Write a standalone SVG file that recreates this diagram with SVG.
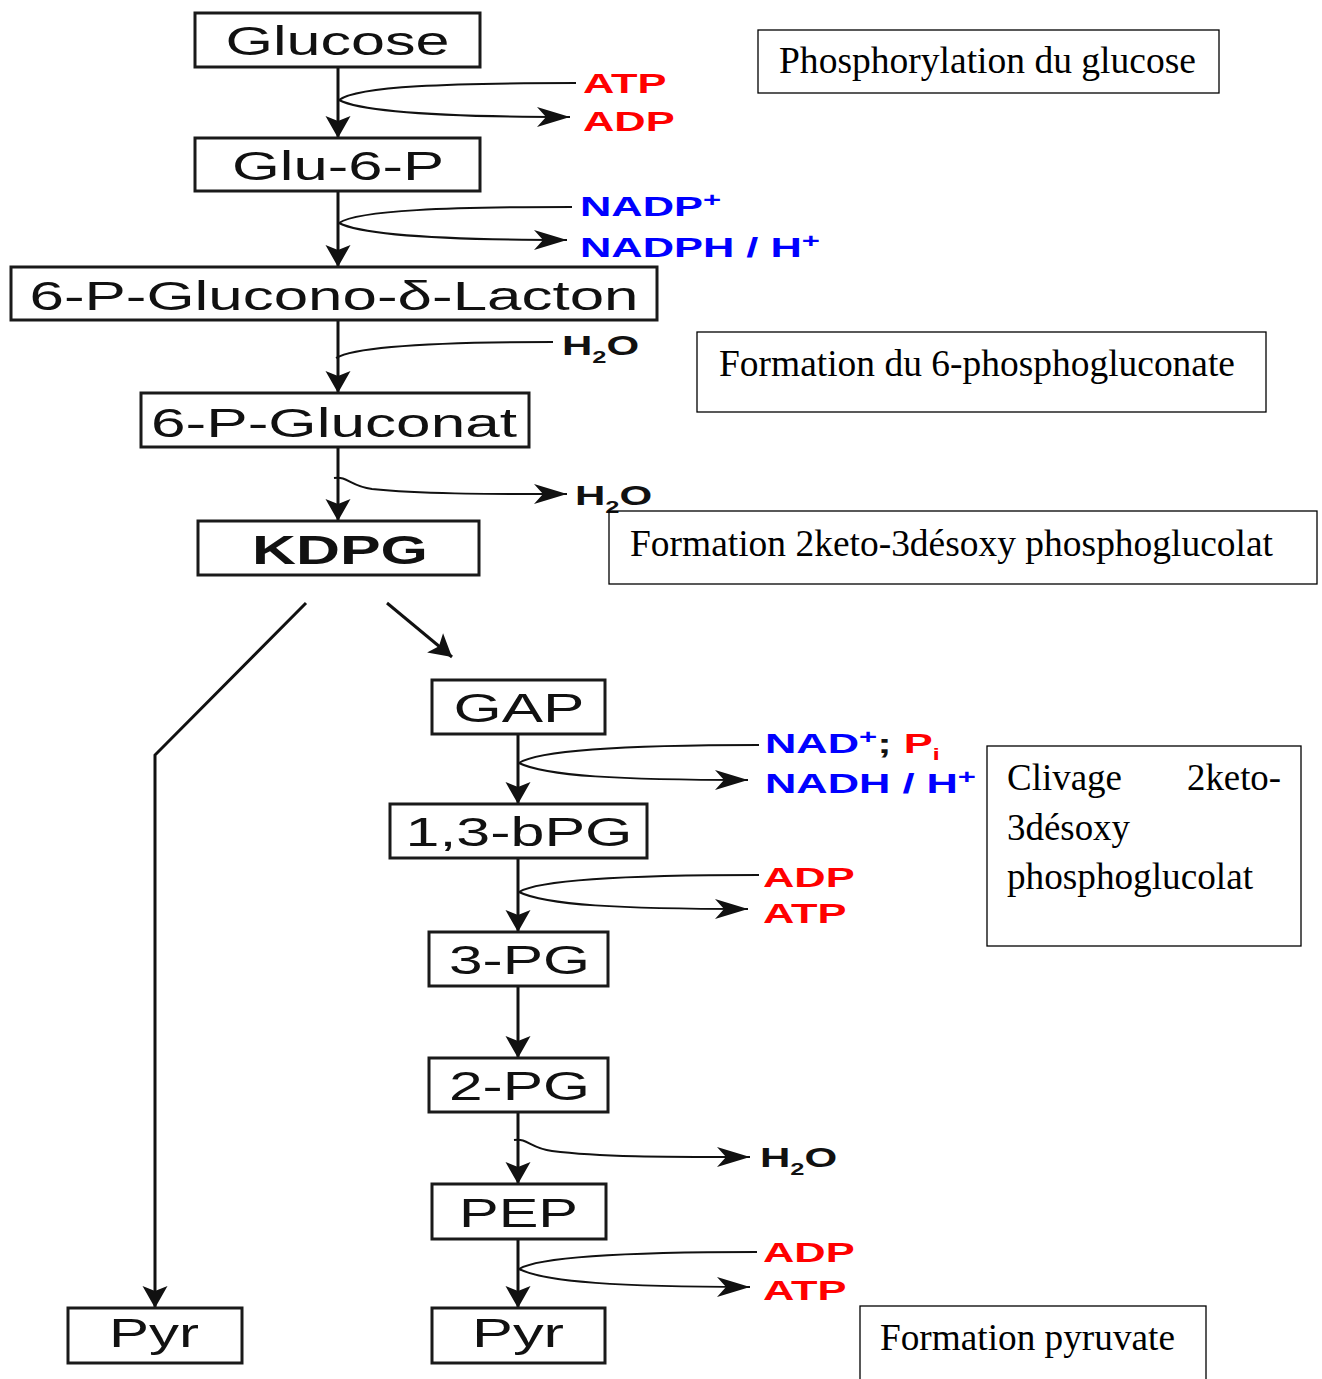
<svg xmlns="http://www.w3.org/2000/svg" width="1322" height="1379" viewBox="0 0 1322 1379">
  <style>
    .box { fill: #fff; stroke: #1a1a1a; stroke-width: 3; }
    .nl { font-family: "Liberation Sans", Arial, sans-serif; font-size: 41px; fill: #111; text-anchor: middle; }
    .lbl { font-family: "Liberation Sans", Arial, sans-serif; font-weight: bold; font-size: 28px; }
    .sup { font-size: 20px; }
    .sub { font-size: 17px; }
    .red { fill: #ff0000; }
    .blue { fill: #0000ff; }
    .blk { fill: #111; }
    .main { stroke: #111; stroke-width: 3; fill: none; marker-end: url(#head); }
    .side { stroke: #111; stroke-width: 2; fill: none; }
    .out { marker-end: url(#barb); }
    .note { fill: none; stroke: #000; stroke-width: 1.3; }
    .nt { font-family: "Liberation Serif", "Times New Roman", serif; font-size: 38px; fill: #000; }
  </style>
  <defs>
    <marker id="head" markerUnits="userSpaceOnUse" viewBox="-24 -14 26 28" markerWidth="26" markerHeight="28" refX="0" refY="0" orient="auto" overflow="visible">
      <path d="M0,0 L-22,-12.5 L-17,0 L-22,12.5 Z" fill="#111"/>
    </marker>
    <marker id="barb" markerUnits="userSpaceOnUse" viewBox="-36 -12 38 24" markerWidth="38" markerHeight="24" refX="0" refY="0" orient="auto" overflow="visible">
      <path d="M0,0 L-33,-10 L-24,0 L-33,10 Z" fill="#111"/>
    </marker>
  </defs>

  <rect width="1322" height="1379" fill="#fff"/>

  <!-- connectors -->
  <g id="connectors">
    <!-- main pathway, upper chain -->
    <path class="main" d="M338,67 L338,138"/>
    <path class="main" d="M338,191 L338,267"/>
    <path class="main" d="M338,320 L338,393"/>
    <path class="main" d="M338,447 L338,521"/>
    <!-- KDPG split -->
    <path class="main" d="M306,603 L155,755 L155,1308"/>
    <path class="main" d="M387,603 L452,657"/>
    <!-- lower chain -->
    <path class="main" d="M518,734 L518,804"/>
    <path class="main" d="M518,858 L518,932"/>
    <path class="main" d="M518,986 L518,1058"/>
    <path class="main" d="M518,1112 L518,1184"/>
    <path class="main" d="M518,1239 L518,1308"/>

    <!-- side reactions -->
    <path class="side" d="M576,83 C450,83 358,86 339,100"/>
    <path class="side out" d="M339,100 C362,112 440,117 570,117"/>
    <path class="side" d="M572,207 C450,207 358,210 339,223"/>
    <path class="side out" d="M339,223 C362,235 440,240 567,240"/>
    <path class="side" d="M553,342 C450,342 358,345 336,358"/>
    <path class="side out" d="M334,478 C348,476 350,486 372,489 C420,494 480,494 567,494"/>
    <path class="side" d="M759,745 C640,745 540,749 519,763"/>
    <path class="side out" d="M519,763 C545,776 620,780 748,780"/>
    <path class="side" d="M759,875 C640,875 540,879 519,892"/>
    <path class="side out" d="M519,892 C545,905 620,909 748,909"/>
    <path class="side out" d="M514,1140 C528,1138 530,1148 552,1151 C600,1157 660,1157 750,1157"/>
    <path class="side" d="M757,1252 C640,1252 540,1256 519,1269"/>
    <path class="side out" d="M519,1269 C545,1282 620,1287 750,1287"/>
  </g>

  <!-- metabolites -->
  <g id="glucose">
    <rect class="box" x="195" y="13" width="285" height="54"/>
    <text class="nl" x="337.5" y="55" textLength="224" lengthAdjust="spacingAndGlyphs">Glucose</text>
  </g>
  <g id="glu6p">
    <rect class="box" x="195" y="138" width="285" height="53"/>
    <text class="nl" x="338" y="180" textLength="212" lengthAdjust="spacingAndGlyphs">Glu-6-P</text>
  </g>
  <g id="lacton">
    <rect class="box" x="11" y="267" width="646" height="53"/>
    <text class="nl" x="334" y="310" font-size="43" textLength="609" lengthAdjust="spacingAndGlyphs">6-P-Glucono-δ-Lacton</text>
  </g>
  <g id="gluconat">
    <rect class="box" x="141" y="393" width="388" height="54"/>
    <text class="nl" x="334" y="437" textLength="366" lengthAdjust="spacingAndGlyphs">6-P-Gluconat</text>
  </g>
  <g id="kdpg">
    <rect class="box" x="198" y="521" width="281" height="54"/>
    <text class="nl" x="340" y="564" font-weight="bold" textLength="176" lengthAdjust="spacingAndGlyphs">KDPG</text>
  </g>
  <g id="gap">
    <rect class="box" x="432" y="680" width="173" height="54"/>
    <text class="nl" x="519" y="722" textLength="131" lengthAdjust="spacingAndGlyphs">GAP</text>
  </g>
  <g id="bpg">
    <rect class="box" x="390" y="804" width="257" height="54"/>
    <text class="nl" x="519" y="846" textLength="227" lengthAdjust="spacingAndGlyphs">1,3-bPG</text>
  </g>
  <g id="pg3">
    <rect class="box" x="429" y="932" width="179" height="54"/>
    <text class="nl" x="519.5" y="974" textLength="141" lengthAdjust="spacingAndGlyphs">3-PG</text>
  </g>
  <g id="pg2">
    <rect class="box" x="429" y="1058" width="179" height="54"/>
    <text class="nl" x="519.5" y="1100" textLength="141" lengthAdjust="spacingAndGlyphs">2-PG</text>
  </g>
  <g id="pep">
    <rect class="box" x="432" y="1184" width="174" height="55"/>
    <text class="nl" x="518.5" y="1227" textLength="119" lengthAdjust="spacingAndGlyphs">PEP</text>
  </g>
  <g id="pyr-right">
    <rect class="box" x="432" y="1308" width="173" height="55"/>
    <text class="nl" x="518" y="1347" textLength="92" lengthAdjust="spacingAndGlyphs">Pyr</text>
  </g>
  <g id="pyr-left">
    <rect class="box" x="68" y="1308" width="174" height="55"/>
    <text class="nl" x="154" y="1347" textLength="90" lengthAdjust="spacingAndGlyphs">Pyr</text>
  </g>

  <!-- cofactors (bold labels, horizontally widened) -->
  <g id="cofactors">
    <g transform="translate(583,93) scale(1.55,1)"><text class="lbl red">ATP</text></g>
    <g transform="translate(583,131) scale(1.55,1)"><text class="lbl red">ADP</text></g>
    <g transform="translate(580,216) scale(1.55,1)"><text class="lbl blue">NADP<tspan class="sup" dy="-9">+</tspan></text></g>
    <g transform="translate(580,257) scale(1.55,1)"><text class="lbl blue">NADPH / H<tspan class="sup" dy="-9">+</tspan></text></g>
    <g transform="translate(562,355) scale(1.5,1)"><text class="lbl blk">H<tspan class="sub" dy="8">2</tspan><tspan dy="-8">O</tspan></text></g>
    <g transform="translate(575,505) scale(1.5,1)"><text class="lbl blk">H<tspan class="sub" dy="8">2</tspan><tspan dy="-8">O</tspan></text></g>
    <g transform="translate(765,753) scale(1.55,1)"><text class="lbl blue">NAD<tspan class="sup" dy="-9">+</tspan><tspan class="blk" dy="9">; </tspan><tspan class="red">P</tspan><tspan class="sub red" dy="7">i</tspan></text></g>
    <g transform="translate(765,793) scale(1.55,1)"><text class="lbl blue">NADH / H<tspan class="sup" dy="-9">+</tspan></text></g>
    <g transform="translate(763,887) scale(1.55,1)"><text class="lbl red">ADP</text></g>
    <g transform="translate(763,923) scale(1.55,1)"><text class="lbl red">ATP</text></g>
    <g transform="translate(760,1167) scale(1.5,1)"><text class="lbl blk">H<tspan class="sub" dy="8">2</tspan><tspan dy="-8">O</tspan></text></g>
    <g transform="translate(763,1262) scale(1.55,1)"><text class="lbl red">ADP</text></g>
    <g transform="translate(763,1300) scale(1.55,1)"><text class="lbl red">ATP</text></g>
  </g>

  <!-- step descriptions -->
  <g id="note-phosphorylation">
    <rect class="note" x="758" y="30" width="461" height="63"/>
    <text class="nt" x="779" y="73" textLength="417" lengthAdjust="spacingAndGlyphs">Phosphorylation du glucose</text>
  </g>
  <g id="note-gluconate">
    <rect class="note" x="697" y="332" width="569" height="80"/>
    <text class="nt" x="719" y="376" textLength="516" lengthAdjust="spacingAndGlyphs">Formation du 6-phosphogluconate</text>
  </g>
  <g id="note-kdpg">
    <rect class="note" x="609" y="511" width="708" height="73"/>
    <text class="nt" x="630" y="556" textLength="643" lengthAdjust="spacingAndGlyphs">Formation 2keto-3désoxy phosphoglucolat</text>
  </g>
  <g id="note-clivage">
    <rect class="note" x="987" y="746" width="314" height="200"/>
    <text class="nt"><tspan x="1007" y="790" textLength="115" lengthAdjust="spacingAndGlyphs">Clivage</tspan><tspan x="1187" y="790" textLength="94" lengthAdjust="spacingAndGlyphs">2keto-</tspan></text>
    <text class="nt" x="1007" y="840" textLength="123" lengthAdjust="spacingAndGlyphs">3désoxy</text>
    <text class="nt" x="1007" y="889" textLength="246" lengthAdjust="spacingAndGlyphs">phosphoglucolat</text>
  </g>
  <g id="note-pyruvate">
    <rect class="note" x="860" y="1306" width="346" height="90"/>
    <text class="nt" x="880" y="1350" textLength="295" lengthAdjust="spacingAndGlyphs">Formation pyruvate</text>
  </g>
</svg>
